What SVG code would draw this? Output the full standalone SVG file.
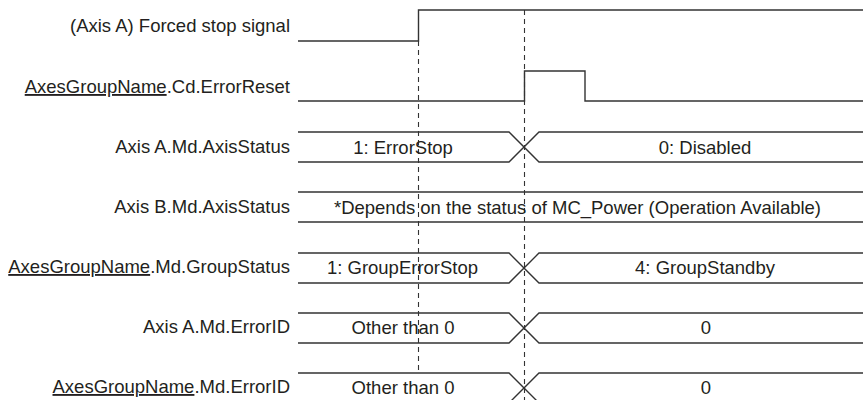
<svg xmlns="http://www.w3.org/2000/svg" width="863" height="400" viewBox="0 0 863 400">
<style>
.lbl{font-family:"Liberation Sans",Arial,sans-serif;font-size:18.5px;fill:#231f20;text-anchor:end}
.val{font-family:"Liberation Sans",Arial,sans-serif;font-size:18.5px;fill:#231f20;text-anchor:middle}
.u{text-decoration:underline}
.sig{fill:none;stroke:#333;stroke-width:1.4}
.dash{fill:none;stroke:#333;stroke-width:1.1;stroke-dasharray:5 4}
</style>
<rect width="863" height="400" fill="#fff"/>
<g id="labels">
<text class="lbl" x="290" y="32">(Axis A) Forced stop signal</text>
<text class="lbl" x="290" y="93"><tspan class="u">AxesGroupName</tspan>.Cd.ErrorReset</text>
<text class="lbl" x="290" y="153">Axis A.Md.AxisStatus</text>
<text class="lbl" x="290" y="213">Axis B.Md.AxisStatus</text>
<text class="lbl" x="290" y="273"><tspan class="u">AxesGroupName</tspan>.Md.GroupStatus</text>
<text class="lbl" x="290" y="333">Axis A.Md.ErrorID</text>
<text class="lbl" x="290" y="393"><tspan class="u">AxesGroupName</tspan>.Md.ErrorID</text>
</g>
<g id="connectors">
<path class="dash" d="M418.5 41V373"/>
<path class="dash" d="M524.5 10V400"/>
</g>
<g id="forced-stop">
<path class="sig" d="M298 41H418.5V10H863"/>
</g>
<g id="error-reset">
<path class="sig" d="M298 101H524.5V71H585V101H863"/>
</g>
<g id="axisA-status">
<path class="sig" d="M298 132H509L539 162H863M298 162H509L539 132H863"/>
<text class="val" x="403" y="154">1: ErrorStop</text>
<text class="val" x="705" y="154">0: Disabled</text>
</g>
<g id="axisB-status">
<path class="sig" d="M298 192H863M298 222H863"/>
<text class="val" x="577.5" y="214">*Depends on the status of MC_Power (Operation Available)</text>
</g>
<g id="group-status">
<path class="sig" d="M298 253H509L539 283H863M298 283H509L539 253H863"/>
<text class="val" x="402.5" y="274">1: GroupErrorStop</text>
<text class="val" x="705" y="274">4: GroupStandby</text>
</g>
<g id="axisA-errorid">
<path class="sig" d="M298 313H509L539 343H863M298 343H509L539 313H863"/>
<text class="val" x="403" y="334">Other than 0</text>
<text class="val" x="706" y="334">0</text>
</g>
<g id="group-errorid">
<path class="sig" d="M298 373H509L539 403H863M298 403H509L539 373H863"/>
<text class="val" x="403" y="394">Other than 0</text>
<text class="val" x="706" y="394">0</text>
</g>
</svg>
